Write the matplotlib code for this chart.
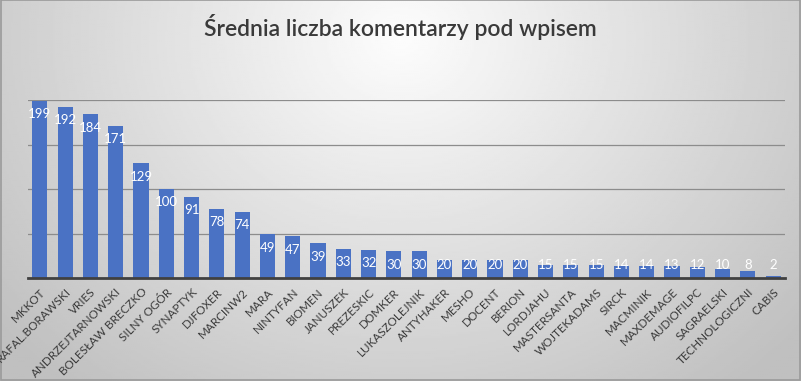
import numpy as np
import matplotlib
matplotlib.use("Agg")
import matplotlib.pyplot as plt

names = ["MKKOT", "RAFAL.BORAWSKI", "VRIES", "ANDRZEJTARNOWSKI", "BOLESŁAW BRECZKO",
         "SILNY OGÓR", "SYNAPTYK", "DJFOXER", "MARCINW2", "MARA", "NINTYFAN", "BIOMEN",
         "JANUSZEK", "PREZESKIC", "DOMKER", "LUKASZOLEJNIK", "ANTYHAKER", "MESHO",
         "DOCENT", "BERION", "LORDJAHU", "MASTERSANTA", "WOJTEKADAMS", "SIRCK",
         "MACMINIK", "MAXDEMAGE", "AUDIOFILPC", "SAGRAELSKI", "TECHNOLOGICZNI", "CABIS"]
values = [199, 192, 184, 171, 129, 100, 91, 78, 74, 49, 47, 39, 33, 32, 30, 30,
          20, 20, 20, 20, 15, 15, 15, 14, 14, 13, 12, 10, 8, 2]
title = "Średnia liczba komentarzy pod wpisem"

plt.rcParams["font.family"] = ["Lato", "DejaVu Sans"]

W, H = 801, 381
fig = plt.figure(figsize=(W / 100, H / 100), dpi=100)

# grey radial background
bg = fig.add_axes([0, 0, 1, 1])
yy, xx = np.mgrid[0:1:200j, 0:1:400j]
r = np.sqrt(((xx - 0.5) / 0.55) ** 2 + ((yy - 0.1) / 1.0) ** 2)
shade = np.clip(0.99 - 0.2 * r, 0.75, 1.0)
bg.imshow(shade, cmap="gray", vmin=0, vmax=1, aspect="auto", extent=[0, 1, 1, 0])
bg.set_xlim(0, 1)
bg.set_ylim(1, 0)
bg.axis("off")
bg.add_patch(plt.Rectangle((0.001, 0.001), 0.998, 0.997, fill=False,
                           edgecolor="#9a9a9a", linewidth=1.2))

ax = fig.add_axes([28 / W, (H - 278) / H, (785 - 28) / W, (278 - 100) / H])
ax.patch.set_alpha(0)
x = np.arange(len(names))
ax.bar(x, values, width=0.6, color="#4a72c4", zorder=3)
ax.set_xlim(-0.47, len(names) - 1 + 0.47)
ax.set_ylim(0, 200)
ax.set_yticks([50, 100, 150, 200])
ax.yaxis.grid(True, color="#8c8c8c", linewidth=0.9, zorder=0)
ax.tick_params(axis="y", length=0, labelleft=False)
ax.tick_params(axis="x", length=0, pad=6)
for s in ["top", "right", "left"]:
    ax.spines[s].set_visible(False)
ax.spines["bottom"].set_color("#404040")
ax.spines["bottom"].set_linewidth(2.0)
ax.spines["bottom"].set_zorder(4)

ax.set_xticks(x)
ax.set_xticklabels(names, rotation=45, ha="right", rotation_mode="anchor",
                   fontsize=8.4, color="#3a3a3a")

for xi, v in zip(x, values):
    ax.text(xi, max(v - 15, 14.5), str(v), ha="center", va="center",
            color="white", fontsize=9.5, zorder=5)

fig.text(0.5, 1 - 27 / H, title, ha="center", va="center", fontsize=16.5,
         fontweight="semibold", color="#3a3a3a")

fig.savefig("out.png", dpi=100)
